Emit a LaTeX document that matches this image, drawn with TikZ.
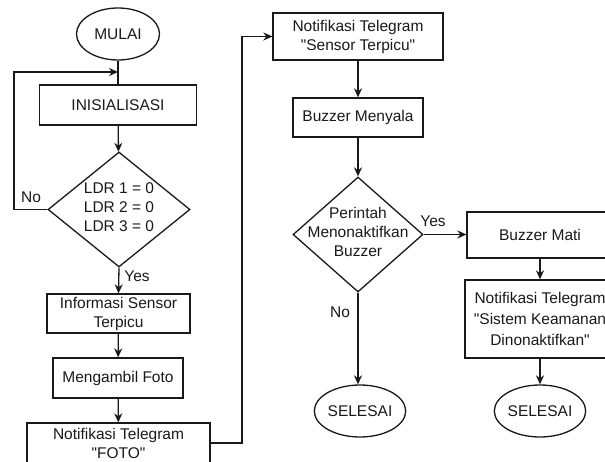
\documentclass[tikz,border=0pt]{standalone}
\usepackage{fontspec}
\setmainfont{Liberation Sans}[Ligatures=TeXOff]
\usetikzlibrary{shapes.geometric,arrows.meta}
\begin{document}
\begin{tikzpicture}[x=1pt,y=-1pt,
  line width=1.3pt, draw=black!90,
  every node/.style={font=\fontsize{15.5}{19}\selectfont, text=black!90},
  box/.style={draw, rectangle, inner sep=0pt, align=center},
  term/.style={draw, ellipse, inner sep=0pt},
  dec/.style={draw, diamond, inner sep=0pt},
  lbl/.style={align=center, inner sep=0pt},
  arr/.style={-{Stealth[length=9pt,width=8pt]}}]
\useasboundingbox (0,0) rectangle (605,461);
\clip (0,0) rectangle (605,461);
% left column
\node[term, minimum width=83, minimum height=52] (mulai) at (118,34) {MULAI};
\node[box, minimum width=157, minimum height=40] (ini) at (118,105) {INISIALISASI};
\node[dec, minimum width=142, minimum height=115] (d1) at (119,209.5) {};
\node[lbl] (d1t) at (119,207) {LDR 1 = 0\\LDR 2 = 0\\LDR 3 = 0};
\node[box, minimum width=143, minimum height=39] (info) at (118.5,313.5) {Informasi Sensor\\Terpicu};
\node[box, minimum width=130, minimum height=40] (foto) at (118,378) {Mengambil Foto};
\node[box, minimum width=183, minimum height=40] (tfoto) at (118.5,443) {Notifikasi Telegram\\"FOTO"};
\coordinate (j1) at (118,72);
\coordinate (l1) at (14,209.5);
\coordinate (c1) at (242,443);
% right columns
\node[box, minimum width=170, minimum height=47] (tsens) at (358,36.5) {Notifikasi Telegram\\"Sensor Terpicu"};
\node[box, minimum width=130, minimum height=39] (buzz) at (358,117.5) {Buzzer Menyala};
\node[dec, minimum width=130, minimum height=115] (d2) at (358,234.5) {};
\node[lbl] (d2t) at (358,232) {Perintah\\Menonaktifkan\\Buzzer};
\node[term, minimum width=85, minimum height=52] (sel1) at (360,411) {SELESAI};
\node[box, minimum width=146, minimum height=46] (mati) at (540,235) {Buzzer Mati};
\node[box, minimum width=150, minimum height=78, font=\fontsize{15.5}{21}\selectfont] (tsis) at (540,319) {Notifikasi Telegram\\"Sistem Keamanan\\Dinonaktifkan"};
\node[term, minimum width=75, minimum height=52] (sel2) at (540,411) {SELESAI};
% connectors
\draw (mulai.south) -- (ini.north);
\draw[arr] (d1.west) -- (l1) |- (j1);
\node[lbl] (no1) at (31,197) {No};
\draw[arr] (ini) -- (d1);
\draw[arr] (d1.south) -- (info.north);
\node[lbl] (yes1) at (137,276) {Yes};
\draw[arr] (info) -- (foto);
\draw[arr] (foto) -- (tfoto);
\draw[arr] (tfoto.east |- c1) -- (c1) |- (tsens.west);
\draw[arr] (tsens) -- (buzz);
\draw[arr] (buzz) -- (d2.north);
\draw[arr] (d2.east) -- (mati.west |- d2.east);
\node[lbl] (yes2) at (433,221) {Yes};
\draw[arr] (d2.south) -- (d2.south |- sel1.north);
\node[lbl] (no2) at (340,312) {No};
\draw[arr] (mati) -- (tsis);
\draw[arr] (tsis) -- (sel2);
\end{tikzpicture}
\end{document}
